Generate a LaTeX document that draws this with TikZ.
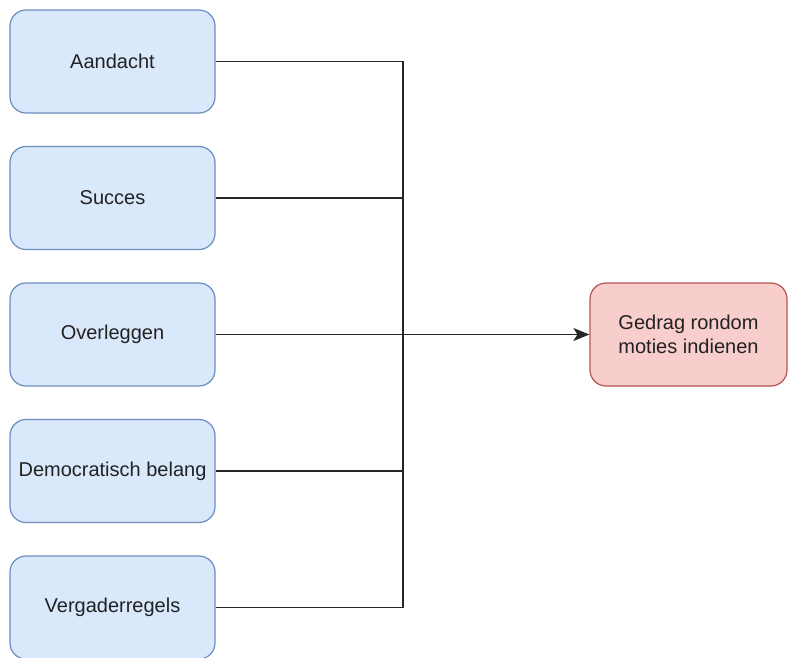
\documentclass[tikz,border=0pt]{standalone}
\usepackage{fontspec}
\setmainfont{Liberation Sans}
\usetikzlibrary{arrows.meta}
\definecolor{bluefill}{HTML}{DAE8FC}
\definecolor{bluedraw}{HTML}{6C8EBF}
\definecolor{redfill}{HTML}{F8CECC}
\definecolor{reddraw}{HTML}{B85450}
\definecolor{txt}{HTML}{222222}
\begin{document}
\begin{tikzpicture}[x=1pt,y=-1pt,
  factor/.style={draw=bluedraw,fill=bluefill,line width=1.2pt,rounded corners=16pt,
    minimum width=205pt,minimum height=103pt,inner sep=0pt,align=center,
    font=\fontsize{20}{23.5}\selectfont,text=txt},
  outcome/.style={factor,draw=reddraw,fill=redfill,minimum width=197pt},
  link/.style={line width=1.7pt,draw=black!85}]
\useasboundingbox (0,0) rectangle (788,657);
\node[factor] (a) at (112.5,61.5) {Aandacht};
\node[factor] (s) at (112.5,198) {Succes};
\node[factor] (o) at (112.5,334.5) {Overleggen};
\node[factor] (d) at (112.5,471) {Democratisch belang};
\node[factor] (v) at (112.5,607.5) {Vergaderregels};
\node[outcome] (g) at (688.5,334.5) {Gedrag rondom\\moties indienen};
\coordinate (top) at (403,61.5);
\coordinate (bot) at (403,607.5);
\draw[link] (a.east) -- (top) -- (bot) -- (v.east);
\draw[link] (s.east) -- (s.east -| top);
\draw[link] (d.east) -- (d.east -| top);
\draw[link,-{Stealth[length=16pt,width=13pt,inset=4pt]}] (o.east) -- (g.west);
\end{tikzpicture}
\end{document}
